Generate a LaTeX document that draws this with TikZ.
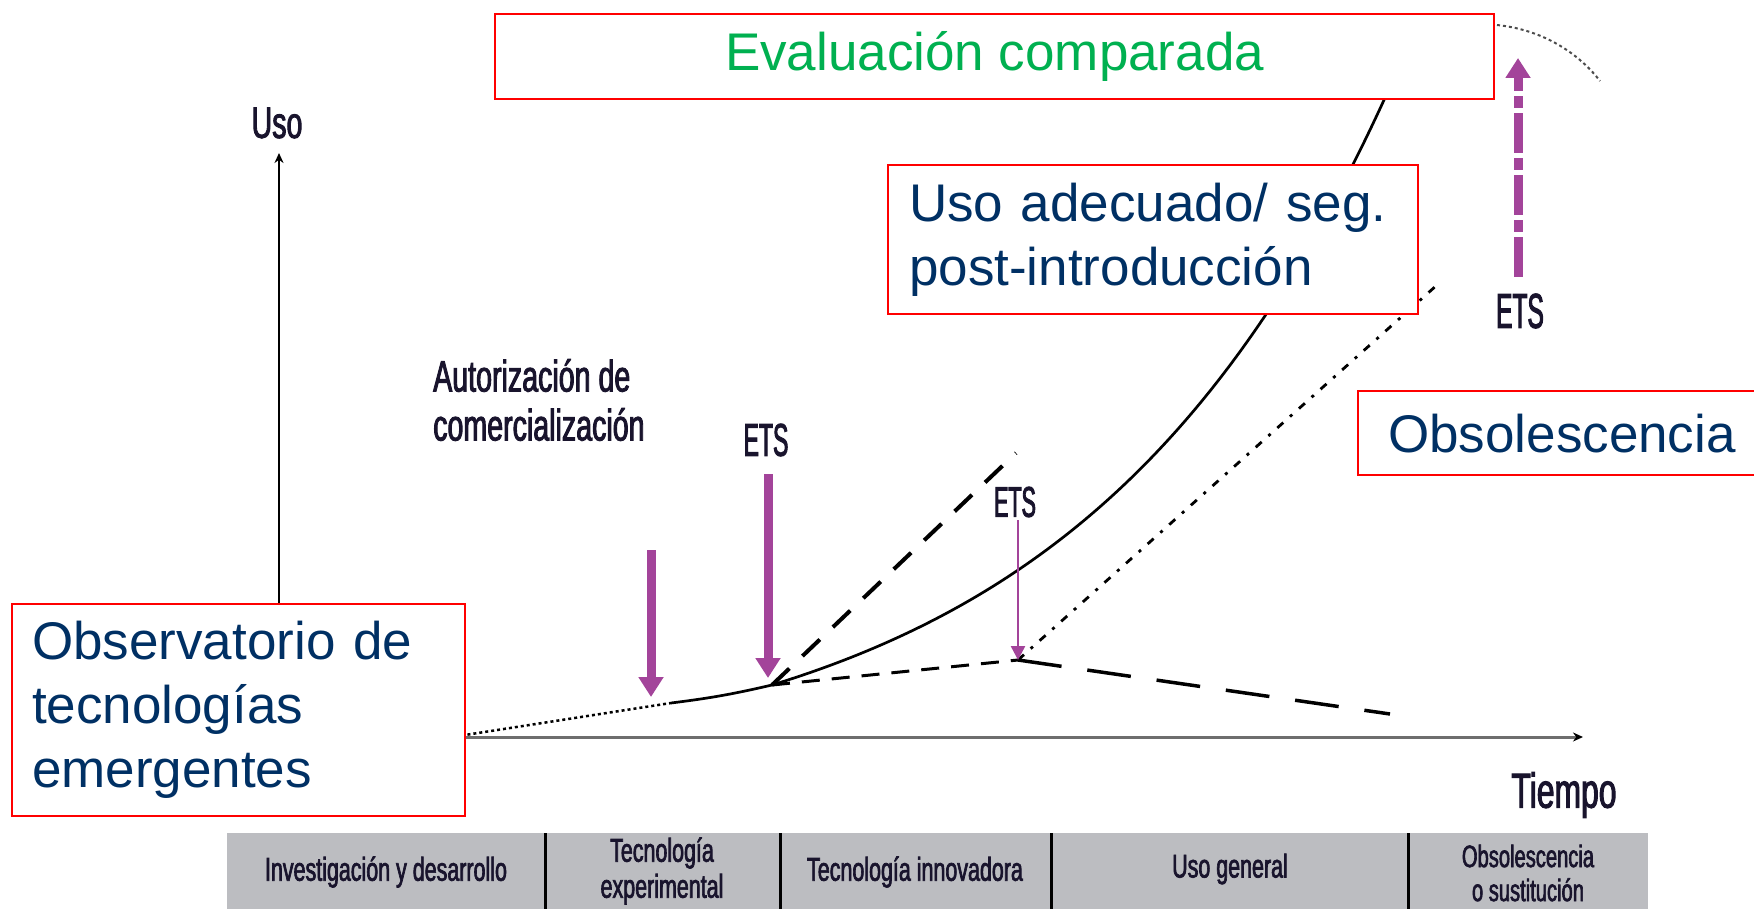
\documentclass[tikz,border=0pt]{standalone}
\usepackage{fontspec}
\setmainfont{Liberation Sans}
\newfontfamily\cnd[FakeStretch=0.65,FakeBold=2]{Liberation Sans}
\newfontfamily\cndn[FakeStretch=0.5,FakeBold=2]{Liberation Sans}
\usetikzlibrary{arrows.meta}
\definecolor{redbox}{RGB}{255,0,0}
\definecolor{navytext}{RGB}{0,48,100}
\definecolor{greentext}{RGB}{0,176,80}
\definecolor{purp}{RGB}{163,68,154}
\definecolor{bargray}{RGB}{188,189,193}
\definecolor{labeltext}{RGB}{25,20,45}
\definecolor{axisgray}{RGB}{110,110,110}
\begin{document}
\begin{tikzpicture}[x=1pt,y=-1pt,
  redframe/.style={draw=redbox,line width=2.2pt,fill=white,rectangle,inner ysep=0pt,anchor=north west},
  bigtext/.style={font=\fontsize{53}{64}\selectfont,text=navytext},
  cndlabel/.style={text=labeltext,inner sep=0pt},
  barlabel/.style={text=labeltext,inner sep=0pt,align=center,font=\cnd\fontsize{33}{36}\selectfont},
  thickpurple/.style={draw=purp,line width=9pt,-{Triangle[width=24pt,length=20pt]}},
  thinpurple/.style={draw=purp,line width=2.5pt,-{Triangle[width=14pt,length=14pt]}},
  axisline/.style={line width=2.5pt,-{Stealth[black,length=10pt,width=9pt]}},
  densedots/.style={line width=2.5pt,dash pattern=on 3pt off 3pt},
  sparsedots/.style={line width=2.8pt,dash pattern=on 8pt off 9pt on 3pt off 9pt},
  longdash/.style={line width=4pt,dash pattern=on 24pt off 18pt},
  shortdash/.style={line width=3pt,dash pattern=on 18pt off 12pt},
  widedash/.style={line width=3.5pt,dash pattern=on 44pt off 26pt}
]
\useasboundingbox (0,0) rectangle (1754,909);
\clip (0,0) rectangle (1754,909);

% key points
\coordinate (ybot) at (279,660);
\coordinate (ytop) at (279,153);
\coordinate (xleft) at (420,737);
\coordinate (xright) at (1583,737);
\coordinate (start) at (420,742);
\coordinate (s1) at (671,703);
\coordinate (junc) at (772,685);
\coordinate (peak) at (1018,660);
\coordinate (dashend) at (1016,453);
\coordinate (decl) at (1390,714);
\coordinate (obsend) at (1437,285);
\coordinate (arcA) at (1497,25);
\coordinate (arcB) at (1600,81);

% axes
\draw[axisline] (ybot) -- (ytop);
\draw[axisline,draw=axisgray,line width=3pt] (xleft) -- (xright);

% curves
\draw[densedots] (start) -- (s1);
\draw[line width=2.7pt] (s1) to[bend right=3] (junc);
\draw[line width=2.7pt] plot[domain=772:1405,samples=80,smooth] (\x,{685-95.8*(exp(0.003205*(\x-772))-1)});
\draw[longdash] (junc) -- (dashend);
\draw[shortdash] (junc) -- (peak);
\draw[widedash] (peak) -- (decl);
\draw[sparsedots] (peak) -- (obsend);
\draw[densedots,draw=black!70,line width=2pt] (arcA) .. controls (1545,30) and (1580,55) .. (arcB);

% purple arrows
\draw[thickpurple] (651,550) -- (651,697);
\draw[thickpurple] (768,474) -- (768,678);
\draw[thinpurple] (1018,520) -- (peak);
\draw[thickpurple,dash pattern=on 40pt off 5pt on 12pt off 5pt] (1518,277) -- (1518,58);

% labels
\node[cndlabel,font=\cnd\fontsize{44}{50}\selectfont] (uso) at (277,123) {Uso};
\node[cndlabel,font=\cnd\fontsize{49}{54}\selectfont] (tiempo) at (1564,795) {Tiempo};
\node[cndlabel,anchor=west,align=left,font=\cnd\fontsize{44}{49}\selectfont] (autor) at (433,400) {Autorización de\\comercialización};
\node[cndlabel,font=\cndn\fontsize{46}{50}\selectfont] (ets1) at (766,440) {ETS};
\node[cndlabel,font=\cndn\fontsize{43}{50}\selectfont] (ets2) at (1015,502) {ETS};
\node[cndlabel,font=\cndn\fontsize{49}{50}\selectfont] (ets3) at (1520,311) {ETS};

% red boxes
\node[redframe,bigtext,text=greentext,minimum width=999pt,minimum height=85pt] (eval) at (494,13) {Evaluación comparada};
\node[redframe,bigtext,minimum height=149pt,text width=488pt,inner xsep=21pt,align=left] (usoad) at (887,164) {Uso adecuado/ seg.\\post-introducción};
\node[redframe,bigtext,minimum height=84pt,text width=400pt,inner xsep=30pt,align=left] (obsol) at (1357,390) {Obsolescencia};
\node[redframe,bigtext,minimum height=212pt,text width=413pt,inner xsep=20pt,align=left] (obsv) at (11,603) {Observatorio de\\tecnologías\\emergentes};

% bottom bar
\node[fill=bargray,anchor=north west,minimum width=1421pt,minimum height=76pt,inner sep=0pt] (bar) at (227,833) {};
\foreach \xx in {545,780,1051,1408}{\draw[line width=3pt] (\xx,833) -- (\xx,909);}
\node[barlabel] (b1) at (386,872) {Investigación y desarrollo};
\node[barlabel] (b2) at (662,871) {Tecnología\\experimental};
\node[barlabel] (b3) at (915,872) {Tecnología innovadora};
\node[barlabel] (b4) at (1230,869) {Uso general};
\node[barlabel,font=\cnd\fontsize{31}{34}\selectfont] (b5) at (1528,873) {Obsolescencia\\o sustitución};
\end{tikzpicture}
\end{document}
